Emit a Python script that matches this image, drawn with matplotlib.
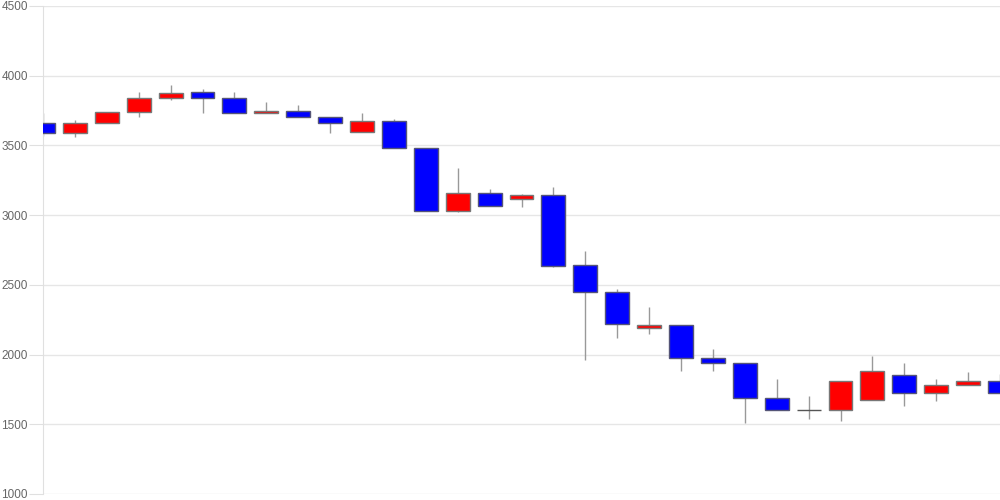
import matplotlib
matplotlib.use("Agg")
import matplotlib.pyplot as plt
import numpy as np

plt.rcParams['font.family'] = ['Liberation Sans', 'DejaVu Sans']

opens  = [3663, 3591, 3661, 3740, 3840, 3881, 3840, 3730, 3745, 3704,
          3598, 3673, 3479, 3030, 3161, 3118, 3142, 2642, 2451, 2190,
          2210, 1973, 1939, 1690, 1602, 1602, 1672, 1851, 1722, 1779, 1810]
closes = [3591, 3663, 3742, 3842, 3874, 3840, 3730, 3745, 3702, 3661,
          3673, 3479, 3030, 3161, 3068, 3142, 2637, 2451, 2221, 2210,
          1973, 1939, 1690, 1602, 1602, 1810, 1880, 1722, 1779, 1810, 1722]
highs  = [3730, 3682, 3742, 3881, 3933, 3902, 3881, 3811, 3790, 3704,
          3732, 3689, 3479, 3340, 3190, 3151, 3202, 2743, 2468, 2341,
          2210, 2040, 1939, 1822, 1703, 1810, 1992, 1939, 1822, 1873, 1860]
lows   = [3570, 3563, 3661, 3702, 3828, 3730, 3730, 3730, 3702, 3591,
          3598, 3479, 3030, 3020, 3068, 3058, 2630, 1961, 2121, 2149,
          1882, 1882, 1511, 1602, 1535, 1523, 1672, 1631, 1669, 1779, 1722]
yticks = [1000, 1500, 2000, 2500, 3000, 3500, 4000, 4500]

fig = plt.figure(figsize=(10, 5), dpi=100)
ax = fig.add_axes([0.043, 0.012, 0.957, 0.976])

x = np.arange(len(opens))
o = np.array(opens); c = np.array(closes)
up = c > o
down = c < o
doji = c == o

ax.vlines(x, lows, highs, color='#999999', linewidth=1, zorder=2)
ax.bar(x[up], (c - o)[up], bottom=o[up], width=0.75, color='#ff0000',
       edgecolor='#777777', linewidth=1, zorder=3)
ax.bar(x[down], (c - o)[down], bottom=o[down], width=0.75, color='#0000ff',
       edgecolor='#555577', linewidth=1, zorder=3)
ax.hlines(o[doji], x[doji] - 0.375, x[doji] + 0.375, color='#555555',
          linewidth=1, zorder=3)

ax.set_xlim(0, len(opens) - 1)
ax.set_ylim(1000, 4500)
ax.set_yticks(yticks)
ax.set_yticklabels([str(t) for t in yticks])
ax.set_xticks([])
ax.grid(axis='y', color='#e6e6e6', linewidth=1, zorder=0)
ax.set_axisbelow(True)
for s in ['top', 'right', 'bottom']:
    ax.spines[s].set_visible(False)
ax.spines['left'].set_color('#e0e0e0')
ax.tick_params(axis='y', length=10, color='#e0e0e0', labelcolor='#666666',
               labelsize=8.5, pad=1)

fig.savefig('out.png', dpi=100)
